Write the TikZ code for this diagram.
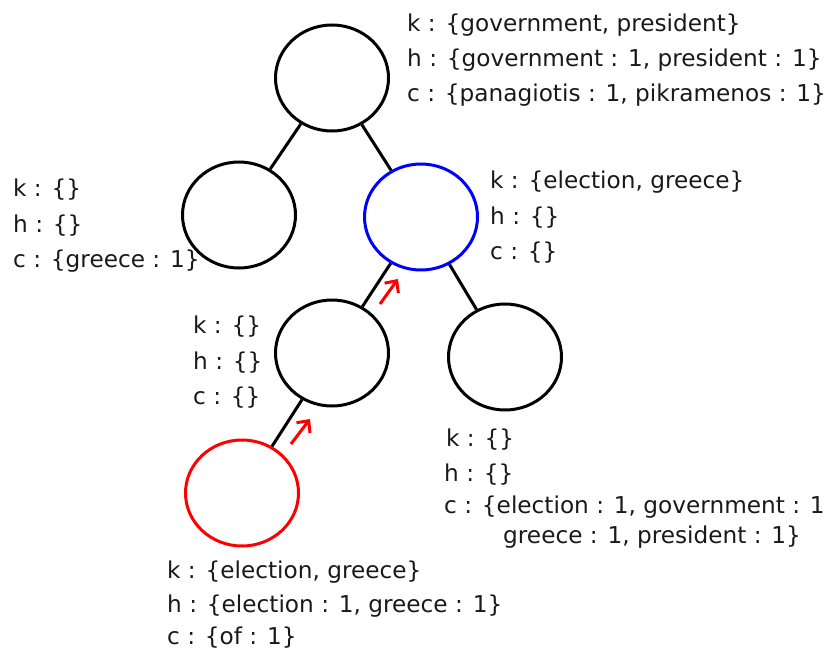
\documentclass[tikz,border=0pt]{standalone}
\usepackage{fontspec}
\setmainfont{DejaVu Sans}
\usetikzlibrary{shapes.geometric,arrows.meta}
\begin{document}
\begin{tikzpicture}[x=1pt,y=-1pt,
  tnode/.style={ellipse,draw,line width=3pt,minimum width=113pt,minimum height=106pt,inner sep=0pt},
  edge/.style={line width=3pt},
  lbl/.style={anchor=base west,inner sep=0pt,font=\fontsize{23.2}{28}\selectfont,text=black!90},
  mv/.style={red,line width=3pt,-{Straight Barb[length=9pt,width=17pt]}}]
\useasboundingbox (0,0) rectangle (829,650);
\node[tnode] (root) at (332,78) {};
\node[tnode] (l1) at (239,215) {};
\node[tnode,draw=blue] (b) at (421,217) {};
\node[tnode] (m) at (332,353) {};
\node[tnode] (r) at (505,357) {};
\node[tnode,draw=red] (q) at (242,493) {};
\draw[edge] (root) -- (l1);
\draw[edge] (root) -- (b);
\draw[edge] (b) -- (m);
\draw[edge] (b) -- (r);
\draw[edge] (m) -- (q);
\coordinate (a1s) at (380,304);
\coordinate (a1e) at (398,279);
\coordinate (a2s) at (291,444);
\coordinate (a2e) at (310,419);
\draw[mv] (a1s) -- (a1e);
\draw[mv] (a2s) -- (a2e);
% root labels
\node[lbl] (rk) at (407,32) {k : \{government, president\}};
\node[lbl] (rh) at (407,67) {h : \{government : 1, president : 1\}};
\node[lbl] (rc) at (407,102) {c : \{panagiotis : 1, pikramenos : 1\}};
% left child
\node[lbl] (lk) at (13,196) {k : \{\}};
\node[lbl] (lh) at (13,232) {h : \{\}};
\node[lbl] (lc) at (13,267) {c : \{greece : 1\}};
% blue
\node[lbl] (bk) at (490,188) {k : \{election, greece\}};
\node[lbl] (bh) at (490,224) {h : \{\}};
\node[lbl] (bc) at (490,259) {c : \{\}};
% middle
\node[lbl] (mk) at (193,333) {k : \{\}};
\node[lbl] (mh) at (193,369) {h : \{\}};
\node[lbl] (mc) at (193,404) {c : \{\}};
% right
\node[lbl] (xk) at (446,446) {k : \{\}};
\node[lbl] (xh) at (444,481) {h : \{\}};
\node[lbl] (xc) at (444,513) {c : \{election : 1, government : 1};
\node[lbl] (xd) at (503,543) {greece : 1, president : 1\}};
% red
\node[lbl] (qk) at (167,578) {k : \{election, greece\}};
\node[lbl] (qh) at (167,612) {h : \{election : 1, greece : 1\}};
\node[lbl] (qc) at (167,644) {c : \{of : 1\}};
\end{tikzpicture}
\end{document}
